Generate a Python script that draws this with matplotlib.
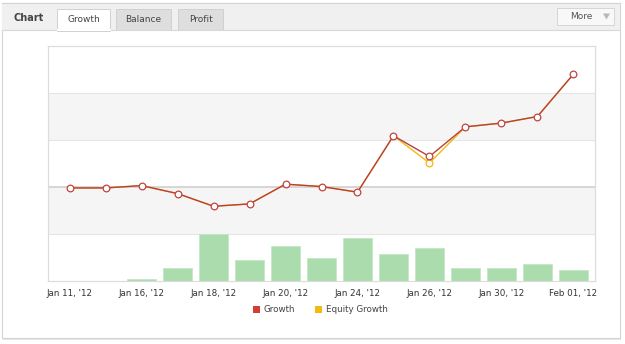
import matplotlib
matplotlib.use("Agg")
import matplotlib.pyplot as plt
from matplotlib.patches import Rectangle, Polygon

# ---- data ----
dates = ["Jan 11, '12", "Jan 13, '12", "Jan 16, '12", "Jan 17, '12", "Jan 18, '12",
         "Jan 19, '12", "Jan 20, '12", "Jan 23, '12", "Jan 24, '12", "Jan 25, '12",
         "Jan 26, '12", "Jan 27, '12", "Jan 30, '12", "Jan 31, '12", "Feb 01, '12"]
growth = [-0.2, -0.2, 0.3, -1.4, -4.1, -3.6, 0.6, 0.1, -1.1, 10.9, 6.5, 12.8, 13.6, 15.0, 24.0]
equity = [-0.2, -0.2, 0.3, -1.4, -4.1, -3.6, 0.6, 0.1, -1.1, 10.9, 5.1, 12.8, 13.6, 15.0, 24.0]
bars = [0, 0, 0.4, 2.8, 10.0, 4.5, 7.4, 4.9, 9.1, 5.7, 7.0, 2.8, 2.8, 3.6, 2.3]
tabs = ["Growth", "Balance", "Profit"]
legend_labels = ["Growth", "Equity Growth"]

W, H = 625, 344
fig = plt.figure(figsize=(W / 100, H / 100), dpi=100)
fig.patch.set_facecolor("white")

# background drawing axes in pixel coordinates
bg = fig.add_axes([0, 0, 1, 1])
bg.set_xlim(0, W)
bg.set_ylim(H, 0)
bg.axis("off")

# panel shadow + border
bg.add_patch(Rectangle((3, 4), 618, 336, facecolor="#e6e6e6", edgecolor="none"))
bg.add_patch(Rectangle((2, 3), 618, 335, facecolor="white", edgecolor="#d4d4d4", lw=0.8))
# header
bg.add_patch(Rectangle((2, 3), 618, 27, facecolor="#f0f0f0", edgecolor="none"))
bg.plot([2, 620], [30, 30], color="#d8d8d8", lw=0.8)
bg.plot([2, 620], [3, 3], color="#d4d4d4", lw=0.8)
bg.text(14, 18, "Chart", fontsize=7, fontweight="bold", color="#444444",
        va="center", ha="left")

tab_x = [(57, 110), (116, 171), (178, 223)]
for i, (lbl, (x0, x1)) in enumerate(zip(tabs, tab_x)):
    fc = "white" if i == 0 else "#dedede"
    bg.add_patch(Rectangle((x0, 9), x1 - x0, 21.5 if i == 0 else 21, facecolor=fc,
                           edgecolor="#d0d0d0", lw=0.7))
    if i == 0:
        bg.plot([x0 + 0.5, x1 - 0.5], [30, 30], color="white", lw=1.5)
    bg.text((x0 + x1) / 2, 20, lbl, fontsize=6.5, color="#444444",
            ha="center", va="center")

# More button
bg.add_patch(Rectangle((557, 8), 57, 17, facecolor="#f8f8f8", edgecolor="#d6d6d6", lw=0.7))
bg.text(581, 16.5, "More", fontsize=6.5, color="#555555", ha="center", va="center")
bg.add_patch(Polygon([[603, 13.5], [610, 13.5], [606.5, 19.5]], closed=True,
                     facecolor="#b8b8b8", edgecolor="none"))

# ---- chart axes ----
L, R, T, B = 48, 595, 46, 281
rect = [L / W, (H - B) / H, (R - L) / W, (B - T) / H]
ax = fig.add_axes(rect)
ax.set_facecolor("white")
x = list(range(len(dates)))
ax.set_xlim(-0.6, len(dates) - 0.4)
ax.set_ylim(0, 50)

# bands (main axes 0..50 corresponds to growth -20..30)
for lo, hi in [(30, 40), (10, 20)]:
    ax.axhspan(lo, hi, color="#f5f5f5", zorder=0, lw=0)
for yv in [10, 30, 40]:
    ax.axhline(yv, color="#e6e6e6", lw=0.8, zorder=1)
ax.axhline(20, color="#cfcfcf", lw=1.2, zorder=1)

# bars
ax.bar(x, bars, width=0.8, color="#abdcae", edgecolor="#c4e8c6", lw=0.6, zorder=3)

lax = ax.twinx()
lax.set_ylim(-20, 30)
lax.patch.set_visible(False)

lax.plot(x, equity, color="#f2b90f", lw=1.0, zorder=4)
lax.plot([x[10]], [equity[10]], ls="none", marker="o", markersize=4.8,
         markerfacecolor="white", markeredgecolor="#f2b90f", markeredgewidth=0.9, zorder=4)
lax.plot(x, growth, color="#b8403b", lw=1.0, zorder=5, marker="o",
         markersize=4.8, markerfacecolor="white", markeredgecolor="#c0443e",
         markeredgewidth=0.9)

for a in (ax, lax):
    a.tick_params(left=False, right=False, labelleft=False, labelright=False,
                  length=0)
    for s in a.spines.values():
        s.set_color("#dcdcdc")
        s.set_linewidth(0.8)
lax.set_yticks([])
ax.set_yticks([])
ax.set_xticks(x[::2])
ax.set_xticklabels(dates[::2], fontsize=6.3, color="#333333")
ax.tick_params(axis="x", pad=6)
ax.set_xlim(-0.6, len(dates) - 0.4)

# legend
bg.add_patch(Rectangle((253, 306), 6.5, 6.5, facecolor="#d63c35", edgecolor="none"))
bg.text(264, 309.5, legend_labels[0], fontsize=6.3, color="#444444", va="center", ha="left")
bg.add_patch(Rectangle((315, 306), 6.5, 6.5, facecolor="#f2b90f", edgecolor="none"))
bg.text(326, 309.5, legend_labels[1], fontsize=6.3, color="#444444", va="center", ha="left")

fig.savefig("out.png", dpi=100)
